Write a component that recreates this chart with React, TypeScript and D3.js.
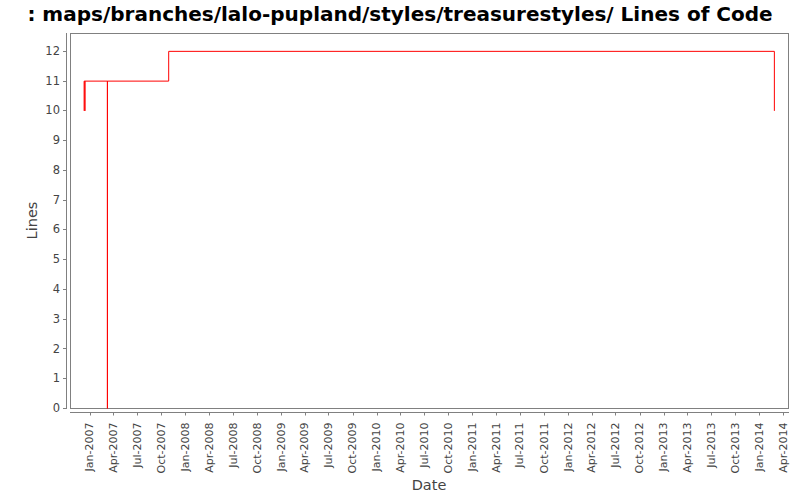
import React from "react";
import * as d3 from "d3";

const title = ": maps/branches/lalo-pupland/styles/treasurestyles/ Lines of Code";
const xLabel = "Date";
const yLabel = "Lines";

// step series (date, lines)
const dates = [
  "2006-12-09", "2006-12-09", "2006-12-12", "2006-12-12",
  "2007-03-08", "2007-03-08", "2007-10-28", "2014-02-26",
];
const lines = [10, 11, 10, 11, 0, 11, 12, 10];

const xDomain = ["2006-10-18", "2014-04-21"];
const yDomain = [0, 12.6];
const yTicks = [0, 1, 2, 3, 4, 5, 6, 7, 8, 9, 10, 11, 12];

const parse = d3.utcParse("%Y-%m-%d");

export default function App() {
  const W = 800, H = 500;
  const left = 70, right = 788, top = 33, bottom = 408;
  const x = d3.scaleUtc().domain(xDomain.map((d) => parse(d)!)).range([left, right]);
  const y = d3.scaleLinear().domain(yDomain).range([bottom, top]);
  const pts: [Date, number][] = dates.map((d, i) => [parse(d)!, lines[i]]);
  const path = d3
    .line<[Date, number]>()
    .x((d) => x(d[0]))
    .y((d) => y(d[1]))
    .curve(d3.curveStepAfter)(pts)!;
  const xTicks = d3.utcMonth.every(3)!.range(parse("2007-01-01")!, parse("2014-04-02")!);
  const fmt = d3.utcFormat("%b-%Y");
  const axisColor = "#808080";
  const labelColor = "#444444";
  const font = "'DejaVu Sans', sans-serif";
  const axisY = 412.5;
  const axisX = 66;

  return (
    <svg width={W} height={H} style={{ position: "absolute", left: 0, top: 0, background: "#fff" }} fontFamily={font}>
      <rect x={0} y={0} width={W} height={H} fill="#fff" />
      <text x={400} y={21} textAnchor="middle" fontSize={20} fontWeight="bold" fill="#000">
        {title}
      </text>
      <rect x={left + 0.5} y={top + 0.5} width={right - left} height={bottom - top} fill="#fff" stroke={axisColor} strokeWidth={1} />
      <path d={path} fill="none" stroke="#ff0000" strokeWidth={1} transform="translate(0.5,0.5)" />
      {/* y axis */}
      <line x1={axisX + 0.5} x2={axisX + 0.5} y1={top} y2={bottom + 1} stroke={axisColor} />
      {yTicks.map((t) => (
        <g key={t}>
          <line x1={axisX - 3} x2={axisX} y1={Math.round(y(t)) + 0.5} y2={Math.round(y(t)) + 0.5} stroke={axisColor} />
          <text x={60} y={y(t)} dy="0.35em" textAnchor="end" fontSize={11.5} fill={labelColor}>
            {t}
          </text>
        </g>
      ))}
      {/* x axis */}
      <line x1={left} x2={right + 1} y1={axisY} y2={axisY} stroke={axisColor} />
      {xTicks.map((t) => {
        const xx = Math.round(x(t)) + 0.5;
        return (
          <g key={t.toISOString()}>
            <line x1={xx} x2={xx} y1={axisY} y2={axisY + 3} stroke={axisColor} />
            <text
              transform={`translate(${x(t)},${axisY + 10}) rotate(-90)`}
              dy="0.35em"
              textAnchor="end"
              fontSize={11}
              fill={labelColor}
            >
              {fmt(t)}
            </text>
          </g>
        );
      })}
      <text x={(left + right) / 2} y={490} textAnchor="middle" fontSize={14.5} fill={labelColor}>
        {xLabel}
      </text>
      <text transform={`translate(37,${(top + bottom) / 2}) rotate(-90)`} textAnchor="middle" fontSize={14.5} fill={labelColor}>
        {yLabel}
      </text>
    </svg>
  );
}
